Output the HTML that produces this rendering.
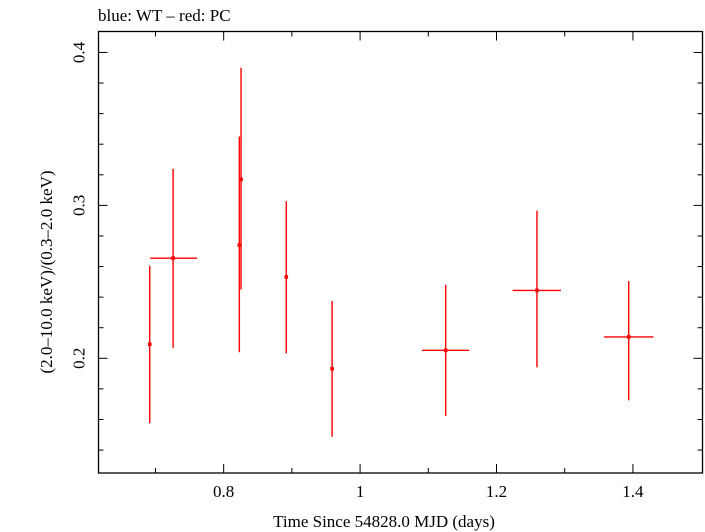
<!DOCTYPE html>
<html><head><meta charset="utf-8"><style>
html,body{margin:0;padding:0;background:#fff;}
svg{display:block;font-family:"Liberation Serif",serif;}
</style></head><body>
<svg id="chart" width="705" height="532">
<text x="98" y="21" font-size="17">blue: WT – red: PC</text>
<rect x="98.5" y="31.5" width="604" height="441.5" fill="none" stroke="#000" stroke-width="1.3"/>
<g id="axes"></g>
<g id="marks"></g>
<text x="384" y="527" font-size="17" text-anchor="middle">Time Since 54828.0 MJD (days)</text>
<text transform="translate(52,272) rotate(-90)" font-size="17" text-anchor="middle">(2.0–10.0 keV)/(0.3–2.0 keV)</text>
</svg>
<script>
const xVals=[0.6916,0.7259,0.823,0.8255,0.8918,0.959,1.1255,1.2593,1.3938];
const xLo=[0.6916,0.6924,0.823,0.8255,0.8918,0.959,1.0906,1.2235,1.3577];
const xHi=[0.6916,0.7609,0.823,0.8255,0.8918,0.959,1.160,1.2945,1.430];
const yVals=[0.2092,0.2655,0.274,0.317,0.2532,0.1932,0.2052,0.2444,0.214];
const yLo=[0.1575,0.2069,0.204,0.245,0.2033,0.1488,0.1623,0.1941,0.1725];
const yHi=[0.2605,0.3239,0.345,0.390,0.3028,0.2375,0.2481,0.2965,0.2505];
const xTickLabels=["0.8","1","1.2","1.4"];
const xTickVals=[0.8,1.0,1.2,1.4];
const yTickLabels=["0.2","0.3","0.4"];
const yTickVals=[0.2,0.3,0.4];
const L=98.5,R=702.5,T=31.5,B=473;
const xMin=0.6165,xMax=1.502,yMin=0.125,yMax=0.4137;
const sx=v=>L+(v-xMin)/(xMax-xMin)*(R-L);
const sy=v=>B-(v-yMin)/(yMax-yMin)*(B-T);
const NS="http://www.w3.org/2000/svg";
const ax=document.getElementById('axes'),mk=document.getElementById('marks');
function mkEl(t,a,p){const e=document.createElementNS(NS,t);for(const k in a)e.setAttribute(k,a[k]);p.appendChild(e);return e;}
for(let v=0.7;v<1.5;v+=0.1){const x=sx(v);const major=xTickVals.some(t=>Math.abs(t-v)<1e-6);const len=major?9:5;
const t1=mkEl('line',{x1:x,x2:x,y1:B,y2:B-len,stroke:'#000','stroke-width':1},ax);


const t2=mkEl('line',{x1:x,x2:x,y1:T,y2:T+len,stroke:'#000','stroke-width':1},ax);

}
xTickVals.forEach((v,i)=>{const t=mkEl('text',{x:sx(v),y:B+24,'font-size':17,'text-anchor':'middle'},ax);t.textContent=xTickLabels[i];

});
for(let k=7;k<=41;k++){const v=k/100;if(k%2)continue;const y=sy(v);if(y<T||y>B)continue;const major=k%10===0;const len=major?9:5;
const t1=mkEl('line',{x1:L,x2:L+len,y1:y,y2:y,stroke:'#000','stroke-width':1},ax);


const t2=mkEl('line',{x1:R,x2:R-len,y1:y,y2:y,stroke:'#000','stroke-width':1},ax);

}
yTickVals.forEach((v,i)=>{const t=mkEl('text',{transform:`translate(${L-14},${sy(v)}) rotate(-90)`,'font-size':17,'text-anchor':'middle'},ax);t.textContent=yTickLabels[i];

});
xVals.forEach((xv,i)=>{const g=mkEl('g',{stroke:'#f00','stroke-width':1.4,fill:'#f00'},mk);


mkEl('line',{x1:sx(xv),x2:sx(xv),y1:sy(yLo[i]),y2:sy(yHi[i])},g);
if(xHi[i]>xLo[i])mkEl('line',{x1:sx(xLo[i]),x2:sx(xHi[i]),y1:sy(yVals[i]),y2:sy(yVals[i])},g);
mkEl('rect',{x:sx(xv)-1.8,y:sy(yVals[i])-1.8,width:3.6,height:3.6,stroke:'none'},g);});
</script>
</body></html>
